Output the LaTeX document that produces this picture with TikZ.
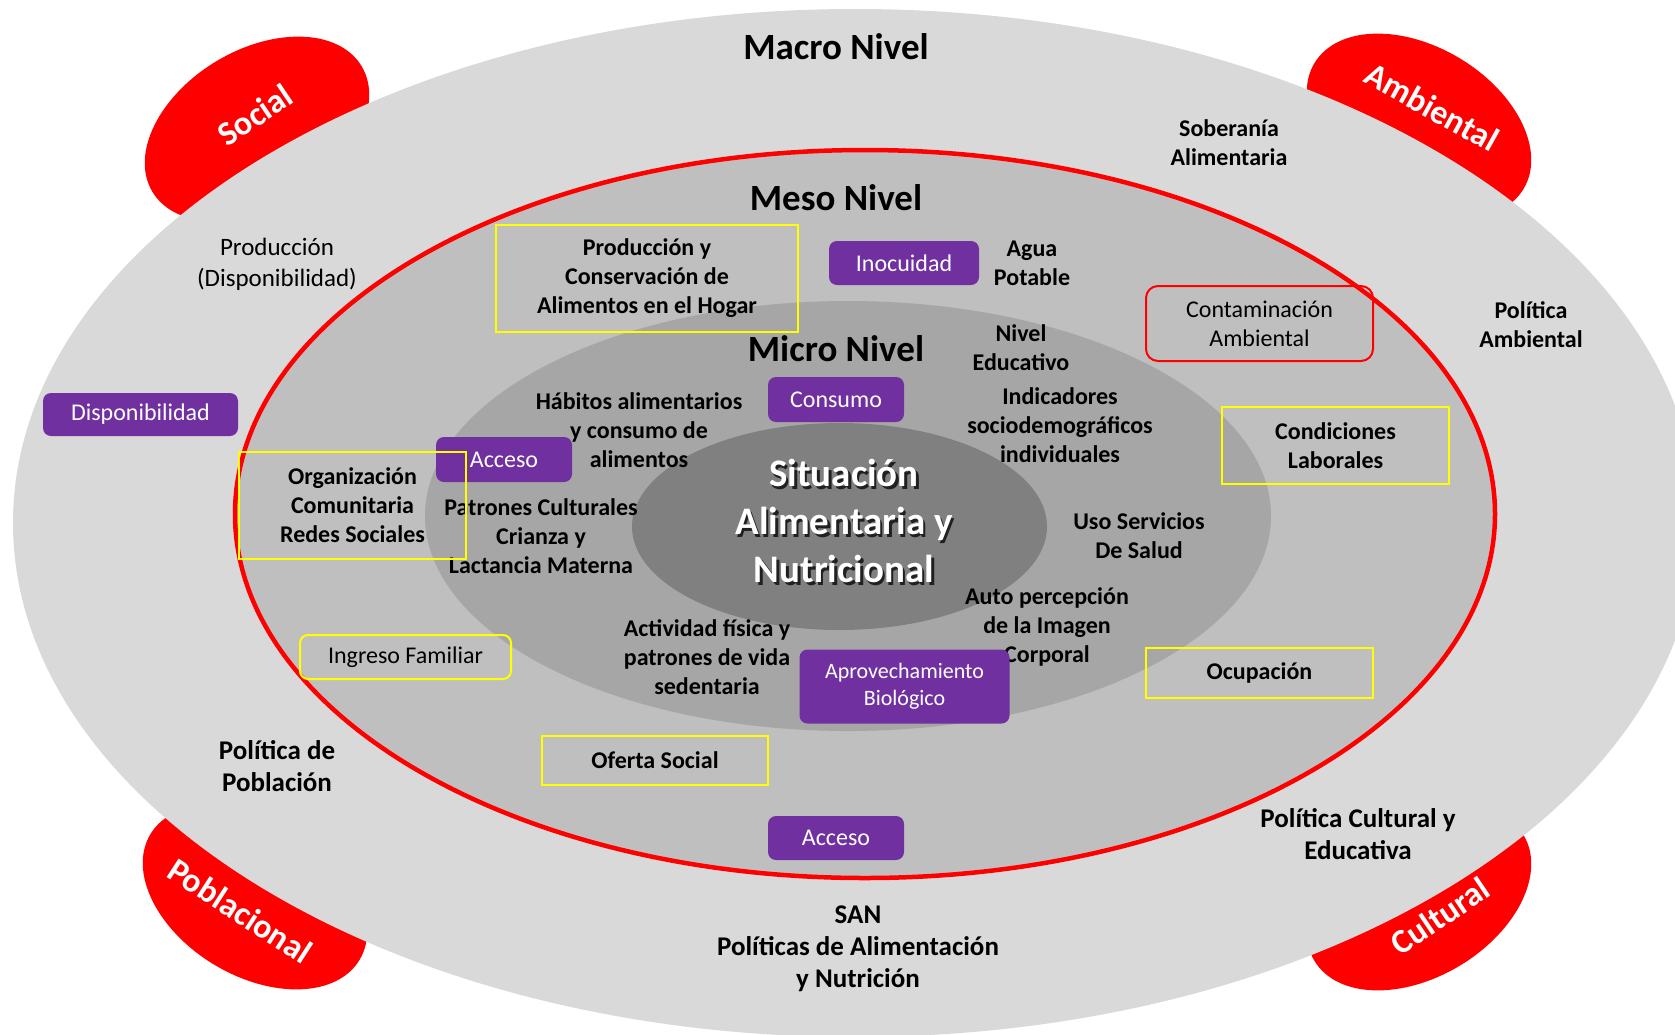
\documentclass[tikz,border=0pt]{standalone}
\usepackage{fontspec}
\setmainfont{Carlito}
\usepackage{tikz}
\usepackage{xcolor}
\usetikzlibrary{
    shapes,
    calc,
    positioning
}
\definecolor{grisa}{HTML}{D9D9D9}
\definecolor{grisb}{HTML}{BFBFBF}
\definecolor{grisc}{HTML}{A6A6A6}
\definecolor{grisd}{HTML}{808080}
\definecolor{rojo}{HTML}{FF0000}
\definecolor{morado}{HTML}{7030A0}
\definecolor{amarillo}{HTML}{FFFF00}

\begin{document}
\begin{tikzpicture}[x=1pt, y=-1pt,
    lbl/.style={align=center, inner sep=0pt, font=\fontsize{24}{29}\selectfont\bfseries},
    lblg/.style={align=center, inner sep=0pt, font=\fontsize{27}{32}\selectfont\bfseries},
    titulo/.style={inner sep=0pt, font=\fontsize{37}{44}\selectfont\bfseries},
    esquina/.style={inner sep=0pt, text=white, font=\fontsize{34}{40}\selectfont\bfseries},
    caja/.style={fill=morado, rounded corners=8pt, text=white, align=center, inner sep=0pt,
        font=\fontsize{24}{29}\selectfont},
    marco/.style={draw=amarillo, line width=2pt, align=center, inner sep=0pt,
        font=\fontsize{24}{29}\selectfont\bfseries},
    centro/.style={align=center, inner sep=0pt, font=\fontsize{39}{48}\selectfont\bfseries}]
                    \useasboundingbox (0, 0) rectangle (1675, 1034);
                    \fill[white] (0, 0) rectangle (1675, 1034);
                    \clip (0, 0) rectangle (1675, 1034);

                    % red corners behind the macro level
                    \fill[rojo, rotate around={31:(257, 129)}] (257, 129) ellipse (122 and 79);
                    \fill[rojo, rotate around={-31:(1419, 126)}] (1419, 126) ellipse (122 and 79);
                    \fill[rojo, rotate around={-31:(255, 897)}] (255, 897) ellipse (122 and 79);
                    \fill[rojo, rotate around={31:(1419, 898)}] (1419, 898) ellipse (122 and 79);

                    % levels
                    \fill[grisa] (855, 523) ellipse (842 and 514);
                    \draw[rojo, fill=grisb, line width=4.5pt] (865, 514) ellipse (630 and 364);
                    \fill[grisc] (848, 516) ellipse (423 and 215);
                    \fill[grisd] (839.5, 526.5) ellipse (207.5 and 103.5);

                    \node[esquina, rotate=34] (social) at (255, 115) {Social};
                    \node[esquina, rotate=-29] (ambiental) at (1432, 107) {Ambiental};
                    \node[esquina, rotate=-33] (poblacional) at (240, 911) {Poblacional};
                    \node[esquina, rotate=34] (cultural) at (1440, 916) {Cultural};

                    \node[titulo] (macro) at (836, 47) {Macro Nivel};
                    \node[titulo] (meso) at (836, 198) {Meso Nivel};
                    \node[titulo] (micro) at (836, 349) {Micro Nivel};

                    \node[centro, text=black, opacity=0.75] (sitsombra) at (846.5, 523.5)
                        {Situación\\Alimentaria y\\Nutricional};
                    \node[centro, text=white] (sit) at (844, 521)
                        {Situación\\Alimentaria y\\Nutricional};

                    % outer ring
                    \node[lbl, font=\fontsize{25}{31}\selectfont] (prod) at (277, 264)
                        {Producción\\(Disponibilidad)};
                    \node[lbl] (sober) at (1229, 143) {Soberanía\\Alimentaria};
                    \node[lbl] (polamb) at (1531, 325) {Política\\Ambiental};
                    \node[lblg] (polpob) at (277, 766) {Política de\\Población};
                    \node[lblg] (polcult) at (1358, 834) {Política Cultural y\\Educativa};
                    \node[lblg] (san) at (858, 949) {SAN\\Políticas de Alimentación\\y Nutrición};

                    % meso and micro labels
                    \node[lbl] (agua) at (1032, 263) {Agua\\Potable};
                    \node[lbl] (educ) at (1021, 348) {Nivel\\Educativo};
                    \node[lbl] (habitos) at (639, 430) {Hábitos alimentarios\\y consumo de\\alimentos};
                    \node[lbl] (indic) at (1060, 425) {Indicadores\\sociodemográficos\\individuales};
                    \node[lbl] (patrones) at (541, 536) {Patrones Culturales\\Crianza y\\Lactancia Materna};
                    \node[lbl] (salud) at (1139, 536) {Uso Servicios\\De Salud};
                    \node[lbl] (auto) at (1047, 627) {Auto percepción\\de la Imagen\\Corporal};
                    \node[lbl] (activ) at (707, 657) {Actividad física y\\patrones de vida\\sedentaria};

                    % purple boxes
                    \node[caja, minimum width=195, minimum height=43] (disp) at (140.5, 414.5) {Disponibilidad};
                    \node[caja, minimum width=150, minimum height=44] (inoc) at (904, 263) {Inocuidad};
                    \node[caja, minimum width=136, minimum height=45] (consumo) at (836, 399.5) {Consumo};
                    \node[caja, minimum width=136, minimum height=45] (acceso) at (504, 459.5) {Acceso};
                    \node[caja, minimum width=210, minimum height=74, font=\fontsize{22}{27}\selectfont]
                        (aprov) at (904.5, 686.5) {Aprovechamiento\\Biológico};
                    \node[caja, minimum width=136, minimum height=44] (accesob) at (836, 838) {Acceso};

                    % framed boxes
                    \node[marco, minimum width=302, minimum height=107] (prodcons) at (647, 278.5)
                        {Producción y\\Conservación de\\Alimentos en el Hogar};
                    \node[marco, minimum width=227, minimum height=107] (organiz) at (352.5, 505.5)
                        {Organización\\Comunitaria\\Redes Sociales};
                    \node[marco, rounded corners=8pt, minimum width=211, minimum height=44,
                        font=\fontsize{24}{29}\selectfont] (ingreso) at (405.5, 657) {Ingreso Familiar};
                    \node[marco, minimum width=226, minimum height=49] (oferta) at (655, 760.5) {Oferta Social};
                    \node[marco, minimum width=227, minimum height=77] (condic) at (1335.5, 445.5)
                        {Condiciones\\Laborales};
                    \node[marco, minimum width=227, minimum height=50] (ocup) at (1259.5, 673) {Ocupación};
                    \node[marco, draw=rojo, rounded corners=12pt, minimum width=227, minimum height=75,
                        font=\fontsize{24}{29}\selectfont] (contam) at (1259.5, 323.5)
                        {Contaminación\\Ambiental};
                \end{tikzpicture}
\end{document}
